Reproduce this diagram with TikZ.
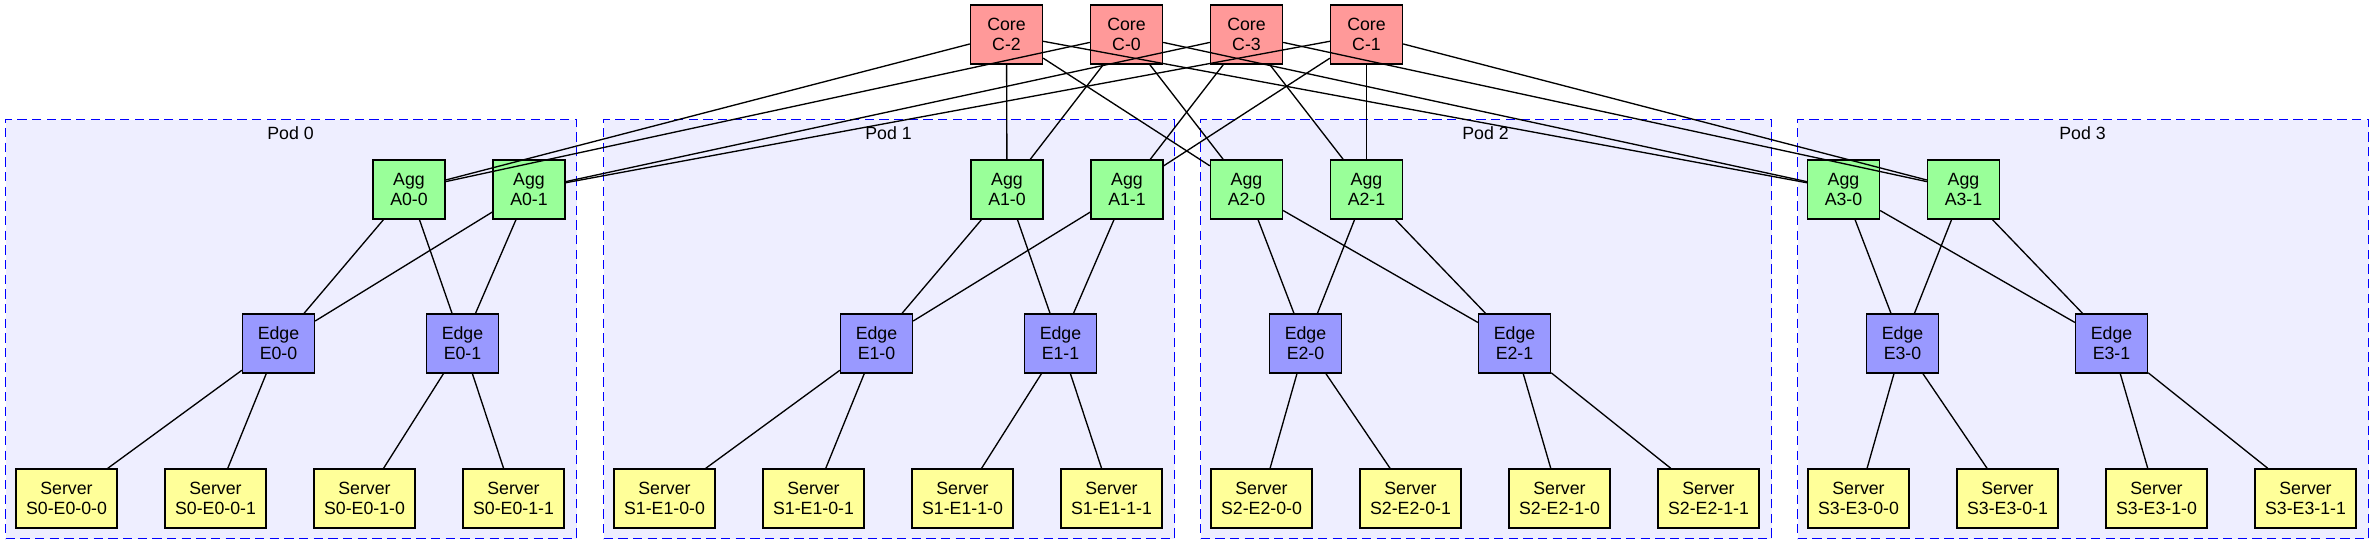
\documentclass[tikz,border=0pt]{standalone}
\usepackage{fontspec}
\setmainfont{Liberation Sans}
\definecolor{corec}{HTML}{FF9999}
\definecolor{aggc}{HTML}{99FF99}
\definecolor{edgec}{HTML}{9999FF}
\definecolor{srvc}{HTML}{FFFF99}
\definecolor{podc}{HTML}{EEEEFF}
\definecolor{podl}{HTML}{0000FF}
\begin{document}
\begin{tikzpicture}[x=0.75pt,y=-0.75pt,
  sw/.style={draw=black, line width=1pt, rectangle, align=center, inner sep=0pt,
    minimum width=54pt, minimum height=44.25pt, font=\fontsize{13.3}{15}\selectfont},
  corebox/.style={sw, fill=corec},
  aggbox/.style={sw, fill=aggc},
  edgebox/.style={sw, fill=edgec},
  srvbox/.style={sw, fill=srvc, minimum width=75.75pt},
  podbox/.style={draw=podl, fill=podc, line width=1pt, dash pattern=on 7pt off 4pt,
    rectangle, inner sep=0pt, minimum width=428.25pt, minimum height=314.25pt, anchor=north west},
  podlabel/.style={inner sep=0pt, font=\fontsize{13.3}{15}\selectfont},
  link/.style={line width=1pt, draw=black}]
\useasboundingbox (0,0) rectangle (2373,544);
% pods
\foreach \k/\o in {0/5,1/603,2/1200,3/1797}{
  \node[podbox] (pod\k) at (\o,119) {};
  \node[podlabel] (podlab\k) at ({\o+285.5},133) {Pod \k};
}
% cores
\node[corebox] (c2) at (1006.5,34.5) {Core\\C-2};
\node[corebox] (c0) at (1126.5,34.5) {Core\\C-0};
\node[corebox] (c3) at (1246.5,34.5) {Core\\C-3};
\node[corebox] (c1) at (1366.5,34.5) {Core\\C-1};
% pod contents
\foreach \k/\o/\pa/\pb/\pc/\pd in {0/5/404/524/273.5/457.5, 1/603/404/524/273.5/457.5,
    2/1200/46.5/166.5/105.5/314.5, 3/1797/46.5/166.5/105.5/314.5}{
  \node[aggbox] (a\k0) at ({\o+\pa},189.5) {Agg\\A\k-0};
  \node[aggbox] (a\k1) at ({\o+\pb},189.5) {Agg\\A\k-1};
  \node[edgebox] (e\k0) at ({\o+\pc},343.5) {Edge\\E\k-0};
  \node[edgebox] (e\k1) at ({\o+\pd},343.5) {Edge\\E\k-1};
  \node[srvbox] (s\k00) at ({\o+61.5},498.5) {Server\\S\k-E\k-0-0};
  \node[srvbox] (s\k01) at ({\o+210.5},498.5) {Server\\S\k-E\k-0-1};
  \node[srvbox] (s\k10) at ({\o+359.5},498.5) {Server\\S\k-E\k-1-0};
  \node[srvbox] (s\k11) at ({\o+508.5},498.5) {Server\\S\k-E\k-1-1};
}
% links
\foreach \k in {0,1,2,3}{
  \draw[link] (c2) -- (a\k0);
  \draw[link] (c0) -- (a\k0);
  \draw[link] (c3) -- (a\k1);
  \draw[link] (c1) -- (a\k1);
  \draw[link] (a\k0) -- (e\k0);
  \draw[link] (a\k0) -- (e\k1);
  \draw[link] (a\k1) -- (e\k0);
  \draw[link] (a\k1) -- (e\k1);
  \draw[link] (e\k0) -- (s\k00);
  \draw[link] (e\k0) -- (s\k01);
  \draw[link] (e\k1) -- (s\k10);
  \draw[link] (e\k1) -- (s\k11);
}
\end{tikzpicture}
\end{document}
